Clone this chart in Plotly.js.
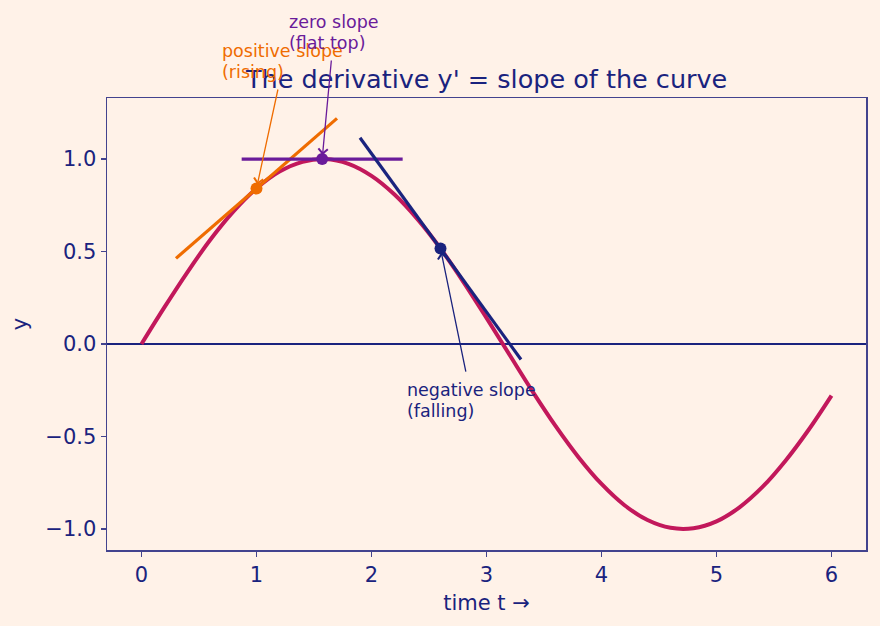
<!DOCTYPE html>
<html>
<head>
<meta charset="utf-8">
<script src="https://cdn.plot.ly/plotly-3.0.1.min.js"></script>
<style>html,body{margin:0;padding:0;background:#FFF2E8;}</style>
</head>
<body>
<div id="chart" style="width:880px;height:626px;"></div>
<script>
// Curve samples (y = sin t)
const curveT = [0,0.2,0.4,0.6,0.8,1.0,1.2,1.4,1.6,1.8,2.0,2.2,2.4,2.6,2.8,3.0,3.2,3.4,3.6,3.8,4.0,4.2,4.4,4.6,4.8,5.0,5.2,5.4,5.6,5.8,6.0];
const curveY = [0.000,0.199,0.389,0.565,0.717,0.841,0.932,0.985,1.000,0.974,0.909,0.808,0.675,0.516,0.335,0.141,-0.058,-0.256,-0.443,-0.612,-0.757,-0.872,-0.952,-0.994,-0.996,-0.959,-0.883,-0.773,-0.631,-0.465,-0.279];

// Tangent segments
const tanPosT = [0.3, 1.7];
const tanPosY = [0.463, 1.220];
const tanZeroT = [0.871, 2.271];
const tanZeroY = [1.0, 1.0];
const tanNegT = [1.9, 3.3];
const tanNegY = [1.115, -0.084];

// Tangent points
const ptPos = {t: 1.0, y: 0.841};
const ptZero = {t: 1.571, y: 1.0};
const ptNeg = {t: 2.6, y: 0.516};

// Ticks
const xTickVals = [0,1,2,3,4,5,6];
const xTickText = ['0','1','2','3','4','5','6'];
const yTickVals = [-1.0,-0.5,0.0,0.5,1.0];
const yTickText = ['\u22121.0','\u22120.5','0.0','0.5','1.0'];

// Annotation texts (two lines each)
const labelPos = ['positive slope', '(rising)'];
const labelZero = ['zero slope', '(flat top)'];
const labelNeg = ['negative slope', '(falling)'];
const titleText = "The derivative y' = slope of the curve";

const C_CURVE = '#C2185B', C_POS = '#EF6C00', C_ZERO = '#6A1B9A', C_NEG = '#1A237E';
const C_TEXT = '#1A237E', C_SPINE = '#43438E', BG = '#FFF2E8';
const FONT = 'DejaVu Sans, sans-serif';

const traces = [
  {x: curveT, y: curveY, mode: 'lines', line: {color: C_CURVE, width: 4, shape: 'spline'}, hoverinfo: 'skip'},
  {x: tanPosT, y: tanPosY, mode: 'lines', line: {color: C_POS, width: 3.2}},
  {x: tanZeroT, y: tanZeroY, mode: 'lines', line: {color: C_ZERO, width: 3.2}},
  {x: tanNegT, y: tanNegY, mode: 'lines', line: {color: C_NEG, width: 3.2}},
  {x: [ptPos.t], y: [ptPos.y], mode: 'markers', marker: {color: C_POS, size: 12}},
  {x: [ptZero.t], y: [ptZero.y], mode: 'markers', marker: {color: C_ZERO, size: 12}},
  {x: [ptNeg.t], y: [ptNeg.y], mode: 'markers', marker: {color: C_NEG, size: 12}}
];

function arrow(pt, tailT, tailY, color) {
  return {x: pt.t, y: pt.y, xref: 'x', yref: 'y', ax: tailT, ay: tailY, axref: 'x', ayref: 'y',
    text: '', showarrow: true, arrowhead: 4, arrowsize: 1.4, arrowwidth: 1.3, arrowcolor: color, standoff: 4};
}
// text lines placed in paper coordinates
function line(px, py, txt, color) {
  return {x: px, y: py, xref: 'paper', yref: 'paper', text: txt, showarrow: false, xanchor: 'left', yanchor: 'middle',
    align: 'left', font: {family: FONT, size: 17.5, color: color}};
}

const layout = {
  width: 880, height: 626,
  paper_bgcolor: BG, plot_bgcolor: BG,
  margin: {l: 107, r: 14, t: 98, b: 76},
  showlegend: false,
  font: {family: FONT, color: C_TEXT},
  title: {text: titleText, font: {family: FONT, size: 25.5, color: C_TEXT}, x: 0.553, xanchor: 'center', y: 1 - 79/626, yanchor: 'middle'},
  xaxis: {range: [-0.3, 6.3], tickvals: xTickVals, ticktext: xTickText, ticks: 'outside', ticklen: 5, tickwidth: 1.3,
    tickcolor: C_SPINE, showline: true, linecolor: C_SPINE, linewidth: 1.5, mirror: true, showgrid: false, zeroline: false,
    tickfont: {family: FONT, size: 21, color: C_TEXT},
    title: {text: 'time t \u2192', font: {family: FONT, size: 21, color: C_TEXT}, standoff: 9}},
  yaxis: {range: [-1.114, 1.33], tickvals: yTickVals, ticktext: yTickText, ticks: 'outside', ticklen: 5, tickwidth: 1.3,
    tickcolor: C_SPINE, showline: true, linecolor: C_SPINE, linewidth: 1.5, mirror: true, showgrid: false,
    zeroline: true, zerolinecolor: C_NEG, zerolinewidth: 1.5,
    tickfont: {family: FONT, size: 21, color: C_TEXT},
    title: {text: 'y', font: {family: FONT, size: 21, color: C_TEXT}, standoff: 12}},
  annotations: [
    arrow(ptPos, 1.189, 1.384, C_POS),
    arrow(ptZero, 1.652, 1.541, C_ZERO),
    arrow(ptNeg, 2.823, -0.157, C_NEG),
    line(0.1495, 1.1029, labelPos[0], C_POS),
    line(0.1495, 1.0575, labelPos[1], C_POS),
    line(0.2365, 1.1681, labelZero[0], C_ZERO),
    line(0.2365, 1.1217, labelZero[1], C_ZERO),
    line(0.3922, 0.3529, labelNeg[0], C_NEG),
    line(0.3922, 0.3086, labelNeg[1], C_NEG)
  ]
};

Plotly.newPlot('chart', traces, layout, {displayModeBar: false, staticPlot: true});
</script>
</body>
</html>
